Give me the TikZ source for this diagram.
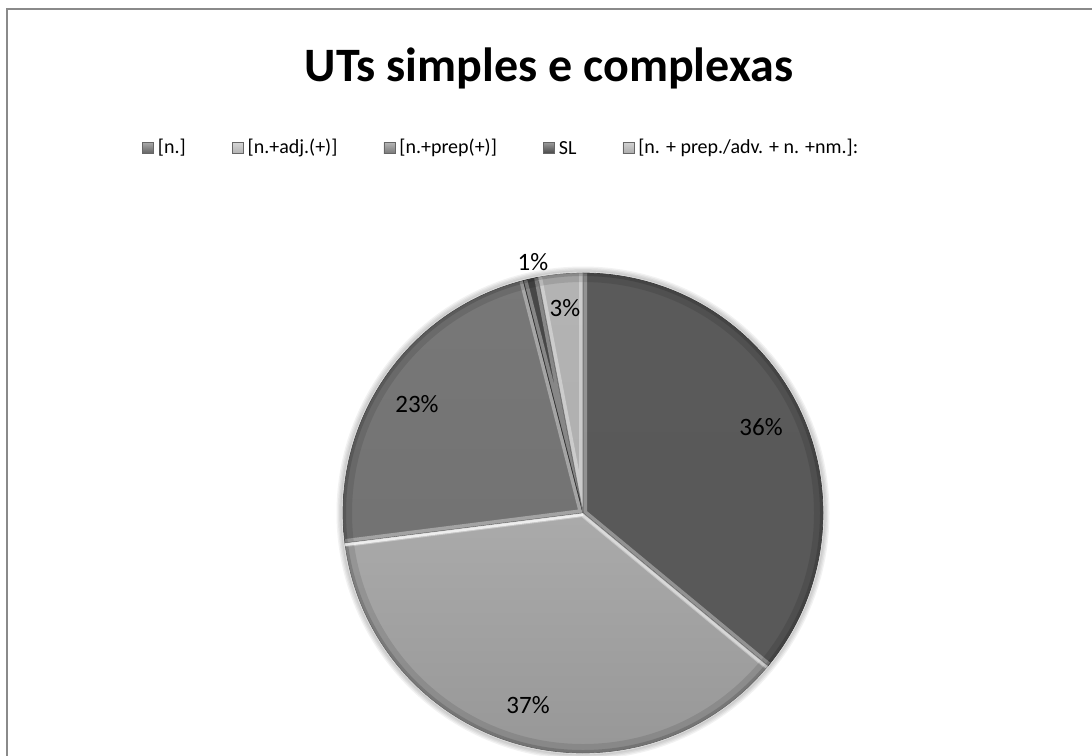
\documentclass[tikz,border=0pt]{standalone}
\usepackage{fontspec}
\setmainfont{Carlito}
\usetikzlibrary{positioning}

\definecolor{frameGray}{HTML}{8A8A8A}
\definecolor{cN}{HTML}{626262}
\definecolor{cAdj}{HTML}{B2B2B2}
\definecolor{cPrep}{HTML}{787878}
\definecolor{cSL}{HTML}{474747}
\definecolor{cLong}{HTML}{ABABAB}

\tikzset{
  chartframe/.style={draw=frameGray, line width=2pt},
  charttitle/.style={font=\bfseries\fontsize{48}{56}\selectfont, inner sep=0pt},
  legsq/.style={minimum size=11pt, inner sep=0pt, draw=black!60, line width=0.5pt},
  legtext/.style={font=\fontsize{20}{24}\selectfont, inner sep=0pt, anchor=west},
  pctlabel/.style={font=\fontsize{25}{30}\selectfont, inner sep=0pt}
}

% one pie wedge: top colour, bottom colour, start angle, end angle (clockwise), radius
\newcommand\pieslice[5]{%
  \begin{scope}
    \clip (O) -- ++(#3:#5) arc[start angle=#3, end angle=#4, radius=#5] -- cycle;
    \shade[top color=#1, bottom color=#2] ([shift={(-#5,#5)}]O) rectangle ([shift={(#5,-#5)}]O);
    \draw[white, opacity=0.35, line width=8pt] (O) -- ++(#3:#5) (O) -- ++(#4:#5);
    \draw[black, opacity=0.10, line width=18pt] (O) circle[radius=#5];
    \draw[black, opacity=0.14, line width=6pt] (O) circle[radius=#5];
  \end{scope}
  \draw[#2!70!black, line width=0.7pt] (O) -- ++(#3:#5) arc[start angle=#3, end angle=#4, radius=#5] -- cycle;
}

\begin{document}
\begin{tikzpicture}[x=1pt,y=1pt]
\useasboundingbox (0,0) rectangle (1092,-755);
\clip (0,0) rectangle (1092,-755);
\fill[white] (0,0) rectangle (1092,-755);
\draw[chartframe] (7,-9) rectangle (1120,-790);

% title
\node[charttitle] (title) at (549,-68) {UTs simples e complexas};

% legend
\node[legsq, top color=cN!55, bottom color=cN] (k1) at (148,-148) {};
\node[legtext, right=4pt of k1] (l1) {[n.]};
\node[legsq, top color=cAdj!55, bottom color=cAdj, right=46pt of l1] (k2) {};
\node[legtext, right=4pt of k2] (l2) {[n.+adj.(+)]};
\node[legsq, top color=cPrep!55, bottom color=cPrep, right=46pt of l2] (k3) {};
\node[legtext, right=4pt of k3] (l3) {[n.+prep(+)]};
\node[legsq, top color=cSL!55, bottom color=cSL, right=46pt of l3] (k4) {};
\node[legtext, right=4pt of k4] (l4) {SL};
\node[legsq, top color=cLong!55, bottom color=cLong, right=46pt of l4] (k5) {};
\node[legtext, right=4pt of k5] (l5) {[n. + prep./adv. + n. +nm.]:};

% pie with a soft outer shadow
\coordinate (O) at (583,-513);
\def\R{240}
\foreach \k in {1,...,5}{
  \draw[black, opacity=0.05, line width=\k pt] (O) circle[radius=\R+\k*0.8];
}
\pieslice{cN!105}{cN!90!black}{90}{-39.6}{\R}
\pieslice{cAdj!85!white}{cAdj!85!black}{-39.6}{-172.8}{\R}
\pieslice{cPrep}{cPrep!92!black}{-172.8}{-255.6}{\R}
\pieslice{cSL}{cSL}{-255.6}{-259.2}{\R}
\pieslice{cLong!90!white}{cLong}{-259.2}{-270}{\R}

% bright rim where the light wedge meets its neighbours
\begin{scope}
  \clip (O) -- ++(-39.6:\R) arc[start angle=-39.6, end angle=-172.8, radius=\R] -- cycle;
  \draw[white, opacity=0.7, line width=6pt] (O) -- ++(-172.8:\R);
  \draw[white, opacity=0.35, line width=6pt] (O) -- ++(-39.6:\R);
\end{scope}

% percentages
\node[pctlabel] (p1) at (761,-427) {36\%};
\node[pctlabel] (p2) at (528,-705) {37\%};
\node[pctlabel] (p3) at (417,-404) {23\%};
\node[pctlabel] (p4) at (533,-262) {1\%};
\node[pctlabel] (p5) at (565,-308) {3\%};
\end{tikzpicture}
\end{document}
